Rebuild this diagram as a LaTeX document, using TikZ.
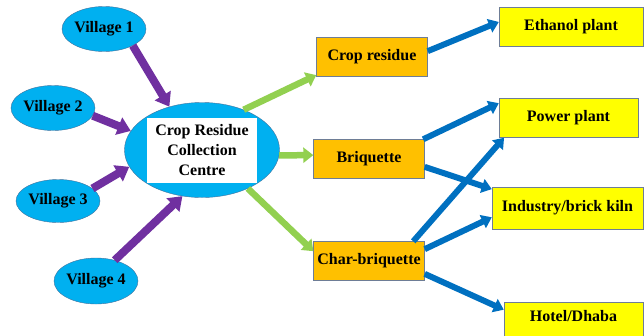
\documentclass[tikz,border=0pt]{standalone}
\usepackage{fontspec}
\setmainfont{Liberation Serif}
\usepackage{xcolor}
\usetikzlibrary{shapes.geometric, arrows.meta}

\definecolor{villageblue}{RGB}{0,176,240}
\definecolor{edgeblue}{RGB}{65,113,156}
\definecolor{edgegray}{RGB}{110,125,150}
\definecolor{productorange}{RGB}{255,192,0}
\definecolor{useryellow}{RGB}{255,255,0}
\definecolor{haulpurple}{RGB}{112,48,160}
\definecolor{feedgreen}{RGB}{146,208,80}
\definecolor{feededge}{RGB}{110,150,70}
\definecolor{supplyblue}{RGB}{0,112,192}

\begin{document}
\begin{tikzpicture}[x=1pt, y=-1pt,
        font=\fontsize{16}{20}\selectfont\bfseries,
        village/.style={ellipse, draw=edgeblue, fill=villageblue, minimum width=83pt, minimum height=45pt, inner sep=0pt},
        product/.style={rectangle, draw=edgegray, fill=productorange, minimum width=111pt, minimum height=39pt, inner sep=0pt},
        user/.style={rectangle, draw=edgegray, fill=useryellow, minimum height=39pt, inner sep=0pt},
        haul/.style={draw=haulpurple, line width=8pt, -{Triangle[length=13pt, width=18pt]}},
        feed/.style={draw=feedgreen, line width=6.5pt, -{Triangle[length=10pt, width=15pt, color=feedgreen]}},
        supply/.style={draw=supplyblue, line width=6pt, -{Triangle[length=10pt, width=14pt]}}]
        \useasboundingbox (0, 0) rectangle (644, 335);
        % villages
        \node (v1) at (104, 29) [village] {Village 1};
        \node (v2) at (53, 108) [village] {Village 2};
        \node (v3) at (58, 201) [village, minimum height=43pt] {Village 3};
        \node (v4) at (96, 281) [village, minimum height=46pt] {Village 4};
        % collection centre
        \node (ctr) at (202, 150) [ellipse, draw=edgeblue, fill=villageblue, minimum width=155pt, minimum height=95pt] {};
        \node (ctrtext) at (ctr.center) [rectangle, fill=white, minimum width=110pt, minimum height=65pt, inner sep=0pt, align=center] {Crop Residue\\Collection\\Centre};
        % products
        \node (cr) at (372, 57) [product] {Crop residue};
        \node (bq) at (369, 159) [product] {Briquette};
        \node (ch) at (369, 261) [product] {Char-briquette};
        % end users
        \node (eth) at (571, 27) [user, minimum width=144pt] {Ethanol plant};
        \node (pp) at (568.5, 118) [user, minimum width=139pt] {Power plant};
        \node (ind) at (567.5, 208) [user, minimum width=151pt, minimum height=42pt] {Industry/brick kiln};
        \node (hot) at (573.5, 322) [user, minimum width=139pt, minimum height=40pt, text depth=13pt] {Hotel/Dhaba};
        \draw [haul] (v1.-30) -- (ctr.127);
        \draw [haul] (v2.-11) -- (ctr.165);
        \draw [haul] (v3.20) -- (ctr.193);
        \draw [haul] (v4.48) -- (ctr.-113);
        \draw [feed] (ctr.44) -- (cr.198);
        \draw [feed] (ctr.-4) -- (bq.176);
        \draw [feed] (ctr.-40) -- (ch.170);
        \draw [supply] (cr.6) -- (eth.176);
        \draw [supply] (bq.20) -- (pp.168);
        \draw [supply] (bq.-8) -- (ind.166);
        \draw [supply] (ch.24) -- (pp.197);
        \draw [supply] (ch.12) -- (ind.187);
        \draw [supply] (ch.-13) -- (hot.170);
    \end{tikzpicture}
\end{document}
